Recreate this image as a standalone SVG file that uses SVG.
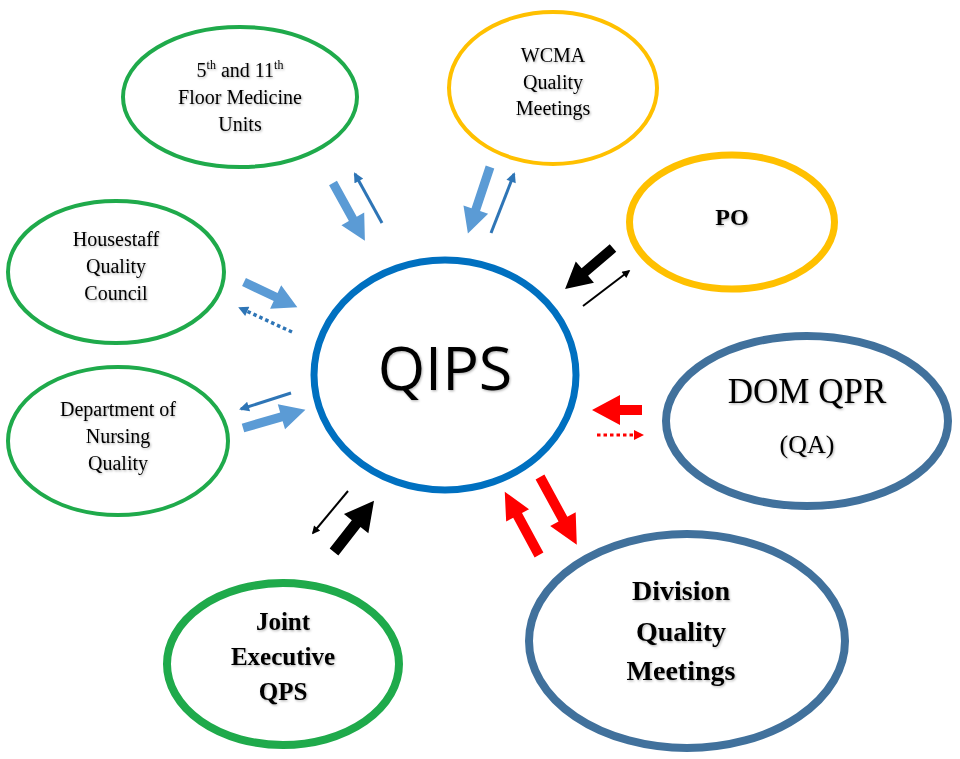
<svg xmlns="http://www.w3.org/2000/svg" width="960" height="759" viewBox="0 0 960 759">
<defs>
<style>
.bg{fill:#ffffff}
.ell{fill:#ffffff}
.green{stroke:#1faa4b}
.yellow{stroke:#ffc000}
.steel{stroke:#41719c}
.qips{stroke:#0070c0}
.t{font-family:"Liberation Serif","Times New Roman",serif;fill:#000;text-anchor:middle;filter:url(#sh)}
.tb{font-weight:bold}
.lb{fill:#5b9bd5}
.blk{fill:#000}
.red{fill:#ff0000}
.thinblue{stroke:#2e75b6;stroke-width:3;fill:none}
.thinblk{stroke:#000;stroke-width:2;fill:none}
.dotblue{stroke:#2e75b6;stroke-width:3.5;fill:none;stroke-dasharray:3.5 3}
.dotred{stroke:#ff0000;stroke-width:3;fill:none;stroke-dasharray:3.5 3}
</style>
<filter id="sh" x="-10%" y="-10%" width="120%" height="130%">
<feDropShadow dx="1" dy="1.2" stdDeviation="0.8" flood-color="#000" flood-opacity="0.3"/>
</filter>
<marker id="mb" viewBox="0 0 10 10" refX="8" refY="5" markerUnits="userSpaceOnUse" markerWidth="11" markerHeight="10" orient="auto">
<path d="M0,0 L10,5 L0,10 z" fill="#2e75b6"/>
</marker>
<marker id="mk" viewBox="0 0 10 10" refX="8" refY="5" markerUnits="userSpaceOnUse" markerWidth="10" markerHeight="8" orient="auto">
<path d="M0,0 L10,5 L0,10 z" fill="#000"/>
</marker>
<marker id="mr" viewBox="0 0 10 10" refX="8" refY="5" markerUnits="userSpaceOnUse" markerWidth="10" markerHeight="10" orient="auto">
<path d="M0,0 L10,5 L0,10 z" fill="#ff0000"/>
</marker>
</defs>
<rect class="bg" x="0" y="0" width="960" height="759"/>

<g id="connectors">
<!-- 5th/11th -->
<polygon class="lb" transform="translate(333,183) rotate(61.1)" points="0,-4.5 41,-4.5 41,-13 66,0 41,13 41,4.5 0,4.5"/>
<path class="thinblue" d="M382,223 L355,174" marker-end="url(#mb)"/>
<!-- WCMA -->
<polygon class="lb" transform="translate(490,167) rotate(108.4)" points="0,-4.5 45,-4.5 45,-13 70,0 45,13 45,4.5 0,4.5"/>
<path class="thinblue" d="M491,233 L514,174" marker-end="url(#mb)"/>
<!-- Housestaff -->
<polygon class="lb" transform="translate(244,282) rotate(25.3)" points="0,-4.5 35,-4.5 35,-13 59,0 35,13 35,4.5 0,4.5"/>
<path class="dotblue" d="M292,332 L240,308" marker-end="url(#mb)"/>
<!-- Nursing -->
<path class="thinblue" d="M291,393 L241,409" marker-end="url(#mb)"/>
<polygon class="lb" transform="translate(243,428) rotate(-16.2)" points="0,-4.5 40,-4.5 40,-13 65,0 40,13 40,4.5 0,4.5"/>
<!-- PO -->
<polygon class="blk" transform="translate(613,248) rotate(139.5)" points="0,-5 37,-5 37,-14 63,0 37,14 37,5 0,5"/>
<path class="thinblk" d="M583,306 L629,271" marker-end="url(#mk)"/>
<!-- DOM QPR -->
<polygon class="red" transform="translate(642,410) rotate(180)" points="0,-5 22,-5 22,-15 50,0 22,15 22,5 0,5"/>
<path class="dotred" d="M597,435 L642,435" marker-end="url(#mr)"/>
<!-- Joint Executive -->
<path class="thinblk" d="M348,491 L313,533" marker-end="url(#mk)"/>
<polygon class="blk" transform="translate(334,552) rotate(-52)" points="0,-5.5 36,-5.5 36,-15.5 65,0 36,15.5 36,5.5 0,5.5"/>
<!-- Division -->
<polygon class="red" transform="translate(539,555) rotate(-118.4)" points="0,-5 45,-5 45,-13 72,0 45,13 45,5 0,5"/>
<polygon class="red" transform="translate(540,477) rotate(61.45)" points="0,-5 48,-5 48,-14.5 77,0 48,14.5 48,5 0,5"/>
</g>

<g id="qips">
<ellipse class="ell qips" cx="445" cy="375" rx="131" ry="115" stroke-width="7"/>
<text x="445" y="390" font-family="'Open Sans','Noto Sans',sans-serif" font-size="61" text-anchor="middle" fill="#000" filter="url(#sh)">QIPS</text>
</g>

<g id="floor-units">
<ellipse class="ell green" cx="240" cy="97" rx="117" ry="70" stroke-width="4"/>
<text class="t" font-size="20"><tspan x="240" y="77">5<tspan font-size="12" dy="-8">th</tspan><tspan dy="8"> and 11</tspan><tspan font-size="12" dy="-8">th</tspan></tspan><tspan x="240" y="104">Floor Medicine</tspan><tspan x="240" y="131">Units</tspan></text>
</g>

<g id="wcma">
<ellipse class="ell yellow" cx="553" cy="88" rx="104" ry="76" stroke-width="4"/>
<text class="t" font-size="20"><tspan x="553" y="62">WCMA</tspan><tspan x="553" y="89">Quality</tspan><tspan x="553" y="115">Meetings</tspan></text>
</g>

<g id="po">
<ellipse class="ell yellow" cx="732" cy="222" rx="102.5" ry="67" stroke-width="7"/>
<text class="t tb" font-size="24" x="732" y="225">PO</text>
</g>

<g id="housestaff">
<ellipse class="ell green" cx="116" cy="272" rx="108" ry="71" stroke-width="4"/>
<text class="t" font-size="20"><tspan x="116" y="246">Housestaff</tspan><tspan x="116" y="273">Quality</tspan><tspan x="116" y="300">Council</tspan></text>
</g>

<g id="nursing">
<ellipse class="ell green" cx="118" cy="441" rx="110" ry="74" stroke-width="4"/>
<text class="t" font-size="20"><tspan x="118" y="416">Department of</tspan><tspan x="118" y="443">Nursing</tspan><tspan x="118" y="470">Quality</tspan></text>
</g>

<g id="dom-qpr">
<ellipse class="ell steel" cx="807" cy="421" rx="141" ry="85" stroke-width="8"/>
<text class="t" font-size="35" x="807" y="403">DOM QPR</text>
<text class="t" font-size="26" x="807" y="453">(QA)</text>
</g>

<g id="joint-exec">
<ellipse class="ell green" cx="283" cy="664" rx="116" ry="81" stroke-width="8"/>
<text class="t tb" font-size="25"><tspan x="283" y="630">Joint</tspan><tspan x="283" y="665">Executive</tspan><tspan x="283" y="700">QPS</tspan></text>
</g>

<g id="division">
<ellipse class="ell steel" cx="687" cy="641" rx="158" ry="107" stroke-width="8"/>
<text class="t tb" font-size="28"><tspan x="681" y="600">Division</tspan><tspan x="681" y="641">Quality</tspan><tspan x="681" y="680">Meetings</tspan></text>
</g>
</svg>
